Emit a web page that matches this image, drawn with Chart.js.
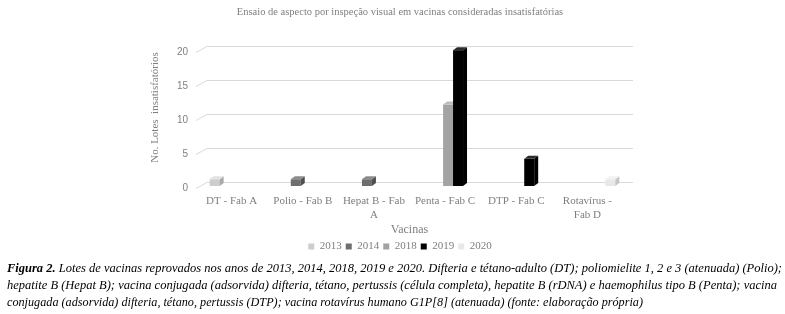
<!DOCTYPE html>
<html>
<head>
<meta charset="utf-8">
<script src="https://cdn.jsdelivr.net/npm/chart.js@4"></script>
<style>
  html, body { margin: 0; padding: 0; background: #fff; }
  body { width: 785px; height: 314px; position: relative; overflow: hidden; }
  #chart { position: absolute; left: 0; top: 0; }
  #caption { position: absolute; left: 7px; top: 259px; font-family: "Liberation Serif", "Times New Roman", serif;
    font-style: italic; font-size: 13.5px; color: #000; line-height: 17px; }
  #caption .ln { white-space: nowrap; transform-origin: 0 0; width: max-content; }
</style>
</head>
<body>
<canvas id="chart" width="785" height="266"></canvas>
<div id="caption">
  <div class="ln" data-w="775"><b>Figura 2.</b> Lotes de vacinas reprovados nos anos de 2013, 2014, 2018, 2019 e 2020. Difteria e tétano-adulto (DT); poliomielite 1, 2 e 3 (atenuada) (Polio);</div>
  <div class="ln" data-w="770">hepatite B (Hepat B); vacina conjugada (adsorvida) difteria, tétano, pertussis (célula completa), hepatite B (rDNA) e haemophilus tipo B (Penta); vacina</div>
  <div class="ln" data-w="636">conjugada (adsorvida) difteria, tétano, pertussis (DTP); vacina rotavírus humano G1P[8] (atenuada) (fonte: elaboração própria)</div>
</div>
<script>
// data
const vacinas = ['DT - Fab A', 'Polio - Fab B', ['Hepat B - Fab', 'A'], 'Penta - Fab C', 'DTP - Fab C', ['Rotavírus -', 'Fab D']]
const anos = ['2013', '2014', '2018', '2019', '2020']
const lotes2013 = [1, null, null, null, null, null]
const lotes2014 = [null, 1, 1, null, null, null]
const lotes2018 = [null, null, null, 12, null, null]
const lotes2019 = [null, null, null, 20, 4, null]
const lotes2020 = [null, null, null, null, null, 1]

const front = ['#cdcdcd', '#6e6e6e', '#a3a3a3', '#000000', '#e8e8e8']
const side = ['#a9a9a9', '#4f4f4f', '#808080', '#000000', '#c6c6c6']
const top_ = ['#e2e2e2', '#8c8c8c', '#bdbdbd', '#2a2a2a', '#f2f2f2']

const txt = '#7f7f7f'
const serif = 'Liberation Serif'
const depthX = 4, depthY = 3
const barShift = { x: 3, y: -2 }

// back-wall gridlines with a slanted foot at the left, like the 3D original
const wallGrid = {
  id: 'wallGrid',
  beforeDatasetsDraw(chart) {
    const { ctx, chartArea, scales } = chart
    ctx.save()
    ctx.strokeStyle = '#d9d9d9'
    ctx.lineWidth = 1
    scales.y.ticks.forEach(t => {
      const y = Math.round(scales.y.getPixelForValue(t.value)) + 0.5
      ctx.beginPath()
      ctx.moveTo(chartArea.left, y)
      ctx.lineTo(chartArea.left + 11, y - 6)
      ctx.lineTo(chartArea.right + 10, y - 6)
      ctx.stroke()
    })
    ctx.restore()
  }
}

// redraw bars shifted into depth and add top / side faces
const depthBars = {
  id: 'depthBars',
  beforeDatasetsDraw(chart) { return false },
  afterDraw(chart) {
    const { ctx } = chart
    ctx.save()
    ctx.translate(barShift.x, barShift.y)
    chart.data.datasets.forEach((ds, i) => {
      const meta = chart.getDatasetMeta(i)
      meta.data.forEach((el, j) => {
        if (ds.data[j] == null) return
        const { x, y, base, width } = el.getProps(['x', 'y', 'base', 'width'], true)
        const l = x - width / 2, r = x + width / 2
        ctx.fillStyle = front[i]
        ctx.fillRect(l, y, width, base - y)
        ctx.fillStyle = side[i]
        ctx.beginPath()
        ctx.moveTo(r, y); ctx.lineTo(r + depthX, y - depthY)
        ctx.lineTo(r + depthX, base - depthY); ctx.lineTo(r, base)
        ctx.closePath(); ctx.fill()
        ctx.fillStyle = top_[i]
        ctx.beginPath()
        ctx.moveTo(l, y); ctx.lineTo(l + depthX, y - depthY)
        ctx.lineTo(r + depthX, y - depthY); ctx.lineTo(r, y)
        ctx.closePath(); ctx.fill()
      })
    })
    ctx.restore()
  }
}

const series = [lotes2013, lotes2014, lotes2018, lotes2019, lotes2020]

new Chart(document.getElementById('chart').getContext('2d'), {
  type: 'bar',
  data: {
    labels: vacinas,
    datasets: series.map((d, i) => ({
      label: anos[i],
      data: d,
      backgroundColor: front[i],
      borderWidth: 0,
      categoryPercentage: 0.7,
      barPercentage: 1.0,
    })),
  },
  options: {
    responsive: false,
    animation: false,
    devicePixelRatio: 1,
    layout: { padding: { left: 15, right: 0, top: 4, bottom: 4 } },
    plugins: {
      tooltip: { enabled: false },
      title: {
        display: true,
        text: 'Ensaio de aspecto por inspeção visual em vacinas consideradas insatisfatórias',
        color: txt,
        font: { family: serif, size: 10.5, weight: 'normal' },
        padding: { top: 2, bottom: 33.6 },
      },
      legend: {
        position: 'bottom',
        labels: {
          color: txt,
          font: { family: serif, size: 11 },
          boxWidth: 6,
          boxHeight: 6,
          padding: 4,
        },
      },
    },
    scales: {
      x: {
        grid: { display: false, drawTicks: false },
        border: { display: false },
        ticks: { color: txt, font: { family: serif, size: 11 }, padding: 7, maxRotation: 0, autoSkip: false },
        title: { display: true, text: 'Vacinas', color: txt, font: { family: serif, size: 12 }, padding: { top: 4, bottom: 0 } },
        afterFit: s => { s.height = 49 },
      },
      y: {
        min: 0,
        max: 20,
        grid: { display: false, drawTicks: false },
        border: { display: false },
        ticks: { stepSize: 5, color: txt, font: { family: 'Liberation Sans', size: 10 }, padding: 8 },
        title: {
          display: true, align: 'end', text: 'No. Lotes  insatisfatórios', color: txt,
          font: { family: serif, size: 11 }, padding: { top: 134, bottom: 0 },
        },
        afterFit: s => { s.width = 181 },
      },
      y2: {
        type: 'linear',
        axis: 'y',
        position: 'right',
        grid: { display: false, drawTicks: false },
        border: { display: false },
        ticks: { display: false },
        afterFit: s => { s.width = 162 },
      },
    },
  },
  plugins: [wallGrid, depthBars],
})

document.querySelectorAll('#caption .ln').forEach(el => {
  const w = el.getBoundingClientRect().width
  el.style.transform = 'scaleX(' + (el.dataset.w / w) + ')'
})
</script>
</body>
</html>
